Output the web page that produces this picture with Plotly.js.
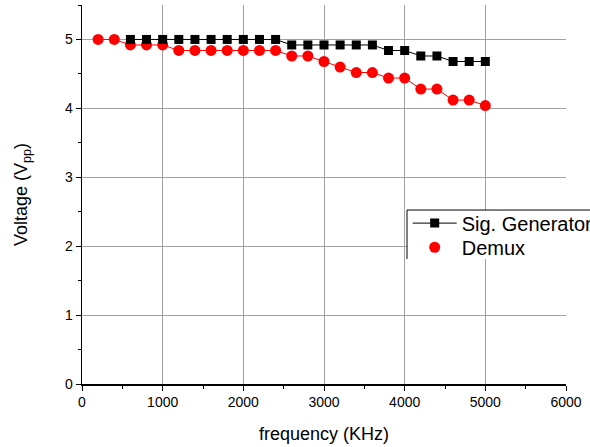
<!DOCTYPE html>
<html>
<head>
<meta charset="utf-8">
<script src="https://cdn.plot.ly/plotly-3.0.1.min.js"></script>
<style>html,body{margin:0;padding:0;background:#fff;}#chart{width:590px;height:447px;}</style>
</head>
<body>
<div id="chart"></div>
<script>
// Data
var sigFreq = [600, 800, 1000, 1200, 1400, 1600, 1800, 2000, 2200, 2400, 2600, 2800, 3000, 3200, 3400, 3600, 3800, 4000, 4200, 4400, 4600, 4800, 5000];
var sigVolt = [5.0, 5.0, 5.0, 5.0, 5.0, 5.0, 5.0, 5.0, 5.0, 5.0, 4.92, 4.92, 4.92, 4.92, 4.92, 4.92, 4.84, 4.84, 4.76, 4.76, 4.68, 4.68, 4.68];
var demuxFreq = [200, 400, 600, 800, 1000, 1200, 1400, 1600, 1800, 2000, 2200, 2400, 2600, 2800, 3000, 3200, 3400, 3600, 3800, 4000, 4200, 4400, 4600, 4800, 5000];
var demuxVolt = [5.0, 5.0, 4.92, 4.92, 4.92, 4.84, 4.84, 4.84, 4.84, 4.84, 4.84, 4.84, 4.76, 4.76, 4.68, 4.6, 4.52, 4.52, 4.44, 4.44, 4.28, 4.28, 4.12, 4.12, 4.04];
var seriesNames = ["Sig. Generator", "Demux"];
var xTitle = "frequency (KHz)";
var yTitle = "Voltage (V<sub>pp</sub>)";

var FONT = "Liberation Sans, Arial, sans-serif";

var traces = [
  {x: demuxFreq, y: demuxVolt, mode: "lines+markers", name: seriesNames[1], showlegend: false,
   line: {color: "#ff0000", width: 1}, marker: {symbol: "circle", size: 11, color: "#ff0000"}},
  {x: sigFreq, y: sigVolt, mode: "lines+markers", name: seriesNames[0], legend: "legend",
   line: {color: "#000000", width: 1}, marker: {symbol: "square", size: 9, color: "#000000"}},
  {x: [null], y: [null], mode: "markers", name: seriesNames[1], legend: "legend2",
   marker: {symbol: "circle", size: 11, color: "#ff0000"}}
];

var legendBase = {
  xref: "container", yref: "container",
  xanchor: "left", yanchor: "top",
  bgcolor: "rgba(0,0,0,0)", borderwidth: 0,
  font: {size: 20, family: FONT, color: "#000"},
  itemwidth: 44
};

var layout = {
  width: 590, height: 447,
  margin: {l: 82, r: 24, t: 5, b: 63, autoexpand: false},
  paper_bgcolor: "#fff", plot_bgcolor: "#fff",
  font: {family: FONT, color: "#000", size: 14},
  xaxis: {
    range: [0, 6000], dtick: 1000, tick0: 0, automargin: false,
    showgrid: true, gridcolor: "#a0a0a0", gridwidth: 1,
    zeroline: false, showline: true, linecolor: "#000", linewidth: 1.5,
    ticks: "outside", ticklen: 5, tickcolor: "#000", tickwidth: 1,
    minor: {dtick: 500, ticks: "outside", ticklen: 3, tickcolor: "#000", showgrid: false},
    tickfont: {size: 14, family: FONT},
    title: {text: xTitle, font: {size: 18, family: FONT}, standoff: 18}
  },
  yaxis: {
    range: [0, 5.5], dtick: 1, tick0: 0, automargin: false,
    showgrid: true, gridcolor: "#a0a0a0", gridwidth: 1,
    zeroline: false, showline: true, linecolor: "#000", linewidth: 1.5,
    ticks: "outside", ticklen: 5, tickcolor: "#000", tickwidth: 1,
    minor: {dtick: 0.5, ticks: "outside", ticklen: 3, tickcolor: "#000", showgrid: false},
    tickfont: {size: 14, family: FONT},
    title: {text: yTitle, font: {size: 18, family: FONT}, standoff: 32}
  },
  legend: Object.assign({}, legendBase, {x: 0.691, y: 0.5445}),
  legend2: Object.assign({}, legendBase, {x: 0.691, y: 0.4905}),
  shapes: [
    {type: "rect", xref: "paper", yref: "paper", x0: 0.6715, x1: 1.06, y0: 0.33, y1: 0.459,
     fillcolor: "#fff", line: {width: 0}, layer: "above"},
    {type: "line", xref: "paper", yref: "paper", x0: 0.6715, x1: 1.06, y0: 0.459, y1: 0.459,
     line: {color: "#000", width: 1}, layer: "above"},
    {type: "line", xref: "paper", yref: "paper", x0: 0.6715, x1: 0.6715, y0: 0.33, y1: 0.459,
     line: {color: "#000", width: 1}, layer: "above"}
  ],
  showlegend: true
};

Plotly.newPlot("chart", traces, layout, {displayModeBar: false, staticPlot: true});
</script>
</body>
</html>
